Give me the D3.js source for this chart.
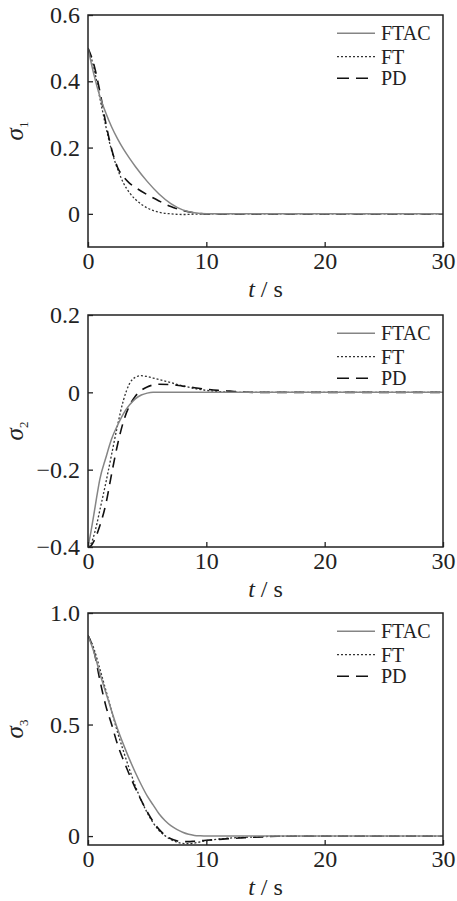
<!DOCTYPE html>
<html lang="en">
<head>
    <meta charset="UTF-8">
    <title>sigma response</title>
    <style>
        body {
            margin: 0;
            background: #fff;
        }
        svg text {
            font-family: "Liberation Serif", "Times New Roman", serif;
            fill: #222;
        }
    </style>
</head>
<body>

<svg id="chart" width="457" height="901"></svg>

<script src="https://d3js.org/d3.v7.min.js"></script>
<script>
    // sigma_1
    const t1 = [0, 0.5, 1, 1.5, 2, 2.5, 3, 3.5, 4, 5, 6, 7, 8, 9, 10, 12, 15, 20, 25, 30];
    const ftac1 = [0.5, 0.42, 0.355, 0.305, 0.262, 0.226, 0.195, 0.168, 0.143, 0.098, 0.06, 0.031, 0.012, 0.003, 0, 0, 0, 0, 0, 0];
    const ft1 = [0.5, 0.44, 0.35, 0.265, 0.19, 0.135, 0.093, 0.064, 0.044, 0.018, 0.005, 0, -0.002, -0.001, 0, 0, 0, 0, 0, 0];
    const pd1 = [0.5, 0.45, 0.37, 0.275, 0.195, 0.14, 0.112, 0.093, 0.08, 0.058, 0.039, 0.022, 0.01, 0.003, 0, 0, 0, 0, 0, 0];

    // sigma_2
    const t2 = [0, 0.25, 0.5, 0.75, 1, 1.5, 2, 2.5, 3, 3.5, 4, 4.5, 5, 5.5, 6, 7, 8, 9, 10, 11, 12, 13, 14, 16, 20, 25, 30];
    const ftac2 = [-0.4, -0.36, -0.315, -0.268, -0.225, -0.17, -0.12, -0.085, -0.055, -0.033, -0.017, -0.007, -0.002, 0, 0, 0, 0, 0, 0, 0, 0, 0, 0, 0, 0, 0, 0];
    const ft2 = [-0.4, -0.392, -0.37, -0.34, -0.305, -0.235, -0.16, -0.085, -0.02, 0.022, 0.039, 0.043, 0.041, 0.037, 0.033, 0.025, 0.017, 0.01, 0.005, 0.002, 0.001, 0, 0, 0, 0, 0, 0];
    const pd2 = [-0.4, -0.397, -0.385, -0.367, -0.345, -0.29, -0.21, -0.135, -0.075, -0.035, -0.01, 0.005, 0.014, 0.019, 0.021, 0.02, 0.016, 0.012, 0.008, 0.005, 0.003, 0.001, 0, 0, 0, 0, 0];

    // sigma_3
    const t3 = [0, 0.5, 1, 1.5, 2, 2.5, 3, 3.5, 4, 4.5, 5, 5.5, 6, 6.5, 7, 7.5, 8, 8.5, 9, 9.5, 10, 11, 12, 13, 14, 15, 16, 20, 25, 30];
    const ftac3 = [0.9, 0.825, 0.73, 0.645, 0.56, 0.48, 0.41, 0.345, 0.285, 0.23, 0.18, 0.14, 0.1, 0.07, 0.047, 0.03, 0.017, 0.008, 0.003, 0.001, 0, 0, 0, 0, 0, 0, 0, 0, 0, 0];
    const ft3 = [0.9, 0.84, 0.75, 0.655, 0.56, 0.465, 0.38, 0.3, 0.225, 0.16, 0.105, 0.06, 0.025, 0.002, -0.016, -0.027, -0.033, -0.034, -0.031, -0.026, -0.021, -0.014, -0.009, -0.006, -0.004, -0.002, -0.001, 0, 0, 0];
    const pd3 = [0.9, 0.83, 0.7, 0.585, 0.5, 0.41, 0.34, 0.275, 0.215, 0.16, 0.11, 0.065, 0.03, 0.005, -0.012, -0.021, -0.025, -0.025, -0.023, -0.021, -0.019, -0.015, -0.011, -0.008, -0.005, -0.003, -0.001, 0, 0, 0];

    // axis ticks
    const xTicks = [0, 10, 20, 30];
    const yTicks1 = [0, 0.2, 0.4, 0.6];
    const yLabels1 = ["0", "0.2", "0.4", "0.6"];
    const yTicks2 = [-0.4, -0.2, 0, 0.2];
    const yLabels2 = ["\u22120.4", "\u22120.2", "0", "0.2"];
    const yTicks3 = [0, 0.5, 1];
    const yLabels3 = ["0", "0.5", "1.0"];

    const seriesNames = ["FTAC", "FT", "PD"];

    const styles = {
        FTAC: { stroke: "#858585", width: 1.5, dash: null },
        FT:   { stroke: "#333", width: 1.3, dash: "2,2" },
        PD:   { stroke: "#111", width: 1.6, dash: "10,7" }
    };

    const panels = [
        { top: 15,  bottom: 247, yDomain: [-0.1, 0.6],  ticks: yTicks1, labels: yLabels1, sub: "1", t: t1, data: [ftac1, ft1, pd1] },
        { top: 315, bottom: 547, yDomain: [-0.4, 0.2],  ticks: yTicks2, labels: yLabels2, sub: "2", t: t2, data: [ftac2, ft2, pd2] },
        { top: 613, bottom: 845, yDomain: [-0.04, 1.0], ticks: yTicks3, labels: yLabels3, sub: "3", t: t3, data: [ftac3, ft3, pd3] }
    ];

    const left = 88, right = 443;
    const svg = d3.select("#chart");

    panels.forEach((p, i) => {
        const x = d3.scaleLinear().domain([0, 30]).range([left, right]);
        const y = d3.scaleLinear().domain(p.yDomain).range([p.bottom, p.top]);
        const g = svg.append("g");

        // clip for curves
        g.append("clipPath").attr("id", "clip" + i)
            .append("rect")
            .attr("x", left).attr("y", p.top)
            .attr("width", right - left).attr("height", p.bottom - p.top);

        // curves
        const line = d3.line()
            .x(d => x(d[0]))
            .y(d => y(d[1]))
            .curve(d3.curveMonotoneX);

        const order = [1, 2, 0];
        order.forEach(k => {
            const st = styles[seriesNames[k]];
            g.append("path")
                .datum(p.t.map((tv, j) => [tv, p.data[k][j]]))
                .attr("clip-path", "url(#clip" + i + ")")
                .attr("fill", "none")
                .attr("stroke", st.stroke)
                .attr("stroke-width", st.width)
                .attr("stroke-dasharray", st.dash)
                .attr("d", line);
        });

        // axes
        const xAxis = d3.axisBottom(x)
            .tickValues(xTicks)
            .tickSizeInner(-5)
            .tickSizeOuter(0)
            .tickPadding(5)
            .tickFormat(d3.format("d"));

        const yAxis = d3.axisLeft(y)
            .tickValues(p.ticks)
            .tickSizeInner(-5)
            .tickSizeOuter(0)
            .tickPadding(8)
            .tickFormat((d, j) => p.labels[j]);

        const gx = g.append("g")
            .attr("transform", `translate(0,${p.bottom})`)
            .call(xAxis);
        const gy = g.append("g")
            .attr("transform", `translate(${left},0)`)
            .call(yAxis);

        [gx, gy].forEach(a => {
            a.select(".domain").remove();
            a.selectAll(".tick line").attr("stroke", "#222").attr("stroke-width", 1.3);
            a.selectAll(".tick text")
                .attr("fill", "#222")
                .style("font-family", "'Liberation Serif', serif")
                .style("font-size", "24px");
        });

        // frame
        g.append("rect")
            .attr("x", left).attr("y", p.top)
            .attr("width", right - left).attr("height", p.bottom - p.top)
            .attr("fill", "none")
            .attr("stroke", "#222")
            .attr("stroke-width", 1.5);

        // x title
        const xt = g.append("text")
            .attr("x", (left + right) / 2)
            .attr("y", p.bottom + 50)
            .attr("text-anchor", "middle")
            .style("font-size", "24px");
        xt.append("tspan").attr("font-style", "italic").text("t");
        xt.append("tspan").text(" / s");

        // y title
        const yt = g.append("text")
            .attr("transform", `translate(23,${(p.top + p.bottom) / 2}) rotate(-90)`)
            .attr("text-anchor", "middle")
            .style("font-size", "25px");
        yt.append("tspan").attr("font-style", "italic").text("\u03c3");
        yt.append("tspan").attr("dy", 5).style("font-size", "13px").text(p.sub);

        // legend
        const rows = [18.3, 41.7, 63.3];
        seriesNames.forEach((name, k) => {
            const st = styles[name];
            const cy = p.top + rows[k];
            g.append("line")
                .attr("x1", 337).attr("x2", 375)
                .attr("y1", cy).attr("y2", cy)
                .attr("stroke", st.stroke)
                .attr("stroke-width", st.width)
                .attr("stroke-dasharray", name === "PD" ? "12,7" : st.dash);
            g.append("text")
                .attr("x", 381)
                .attr("y", cy)
                .attr("dy", "0.35em")
                .style("font-size", "20px")
                .text(name);
        });
    });
</script>

</body>
</html>
